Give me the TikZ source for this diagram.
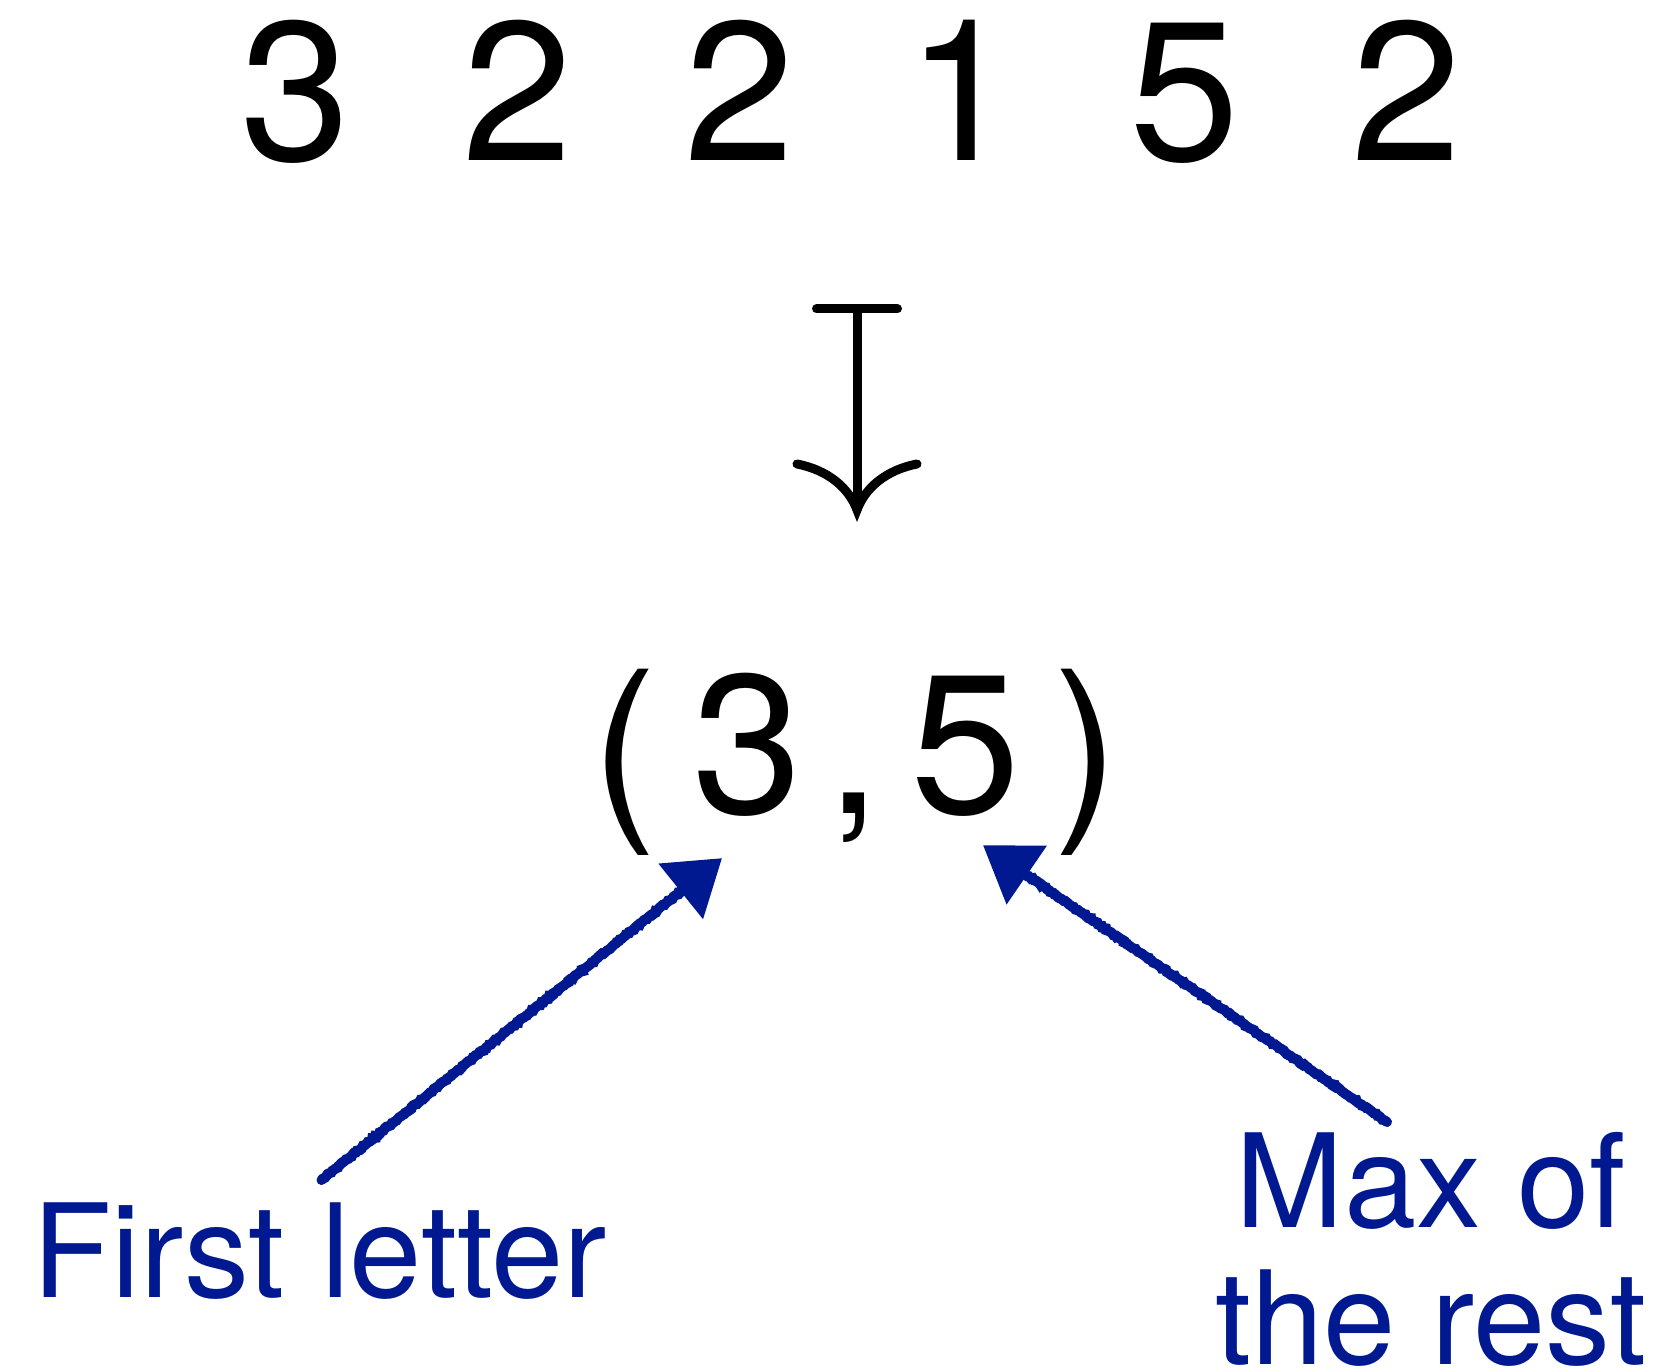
\documentclass[tikz,border=0pt]{standalone}
\usepackage{fontspec}
\setmainfont{TeX Gyre Heros}
\usetikzlibrary{arrows.meta,decorations.pathmorphing,calc}
\definecolor{inkblue}{RGB}{0,25,145}
\begin{document}
\begin{tikzpicture}[x=1pt,y=-1pt,
  digit/.style={inner sep=0pt, anchor=base, font=\fontsize{198}{198}\selectfont},
  note/.style={inner sep=0pt, text=inkblue, font=\fontsize{130}{137}\selectfont},
  mapline/.style={draw=black, line width=9pt},
  chalk/.style={draw=inkblue, line width=9pt, line cap=round,
    -{Triangle[length=53pt,width=69pt]}},
  chalkedge/.style={draw=inkblue, line width=10pt, line cap=round, decorate,
    decoration={random steps, segment length=2pt, amplitude=0.9pt}}]
\useasboundingbox (0,0) rectangle (1665,1372);
\pgfmathsetseed{7}

% the input sequence
\node[digit] (d1) at (296,161) {3};
\node[digit] (d2) at (518,161) {2};
\node[digit] (d3) at (740,161) {2};
\node[digit] (d4) at (962,161) {1};
\node[digit] (d5) at (1185,161) {5};
\node[digit] (d6) at (1407,161) {2};

% the resulting pair
\node[digit] (lp) at (624,813) {(};
\node[digit] (r3) at (748,813) {3};
\node[digit] (cm) at (854,813) {,};
\node[digit] (r5) at (966,813) {5};
\node[digit] (rp) at (1086,813) {)};

% maps-to arrow
\coordinate (mtop) at (857,309);
\coordinate (mtip) at (857,510);
\draw[mapline, line cap=round] ([xshift=-40.5pt]mtop) -- ([xshift=40.5pt]mtop);
\draw[mapline] (mtop) -- (mtip);
\draw[mapline, line cap=round, line join=miter, miter limit=20]
  (797,464) .. controls (828,470) and (849,488) .. (mtip)
  .. controls (865,488) and (886,470) .. (917,464);

% labels
\node[note, anchor=base west] (first) at (32,1297) {First letter};
\node[note, align=center, anchor=north] (rest) at (1431,1132) {Max of\\the rest};

% hand-drawn pointers
\coordinate (tailL) at ([shift={(2,-22)}]first.north);
\coordinate (tipL) at ([shift={(-26,42)}]r3.south);
\coordinate (tailR) at ([shift={(-44,-10)}]rest.north);
\coordinate (tipR) at ([shift={(17,29)}]r5.south);

\draw[chalkedge] (tailL) -- ($(tipL)!45pt!(tailL)$);
\draw[chalk] (tailL) -- (tipL);
\draw[chalkedge] (tailR) -- ($(tipR)!45pt!(tailR)$);
\draw[chalk] (tailR) -- (tipR);
\end{tikzpicture}
\end{document}
